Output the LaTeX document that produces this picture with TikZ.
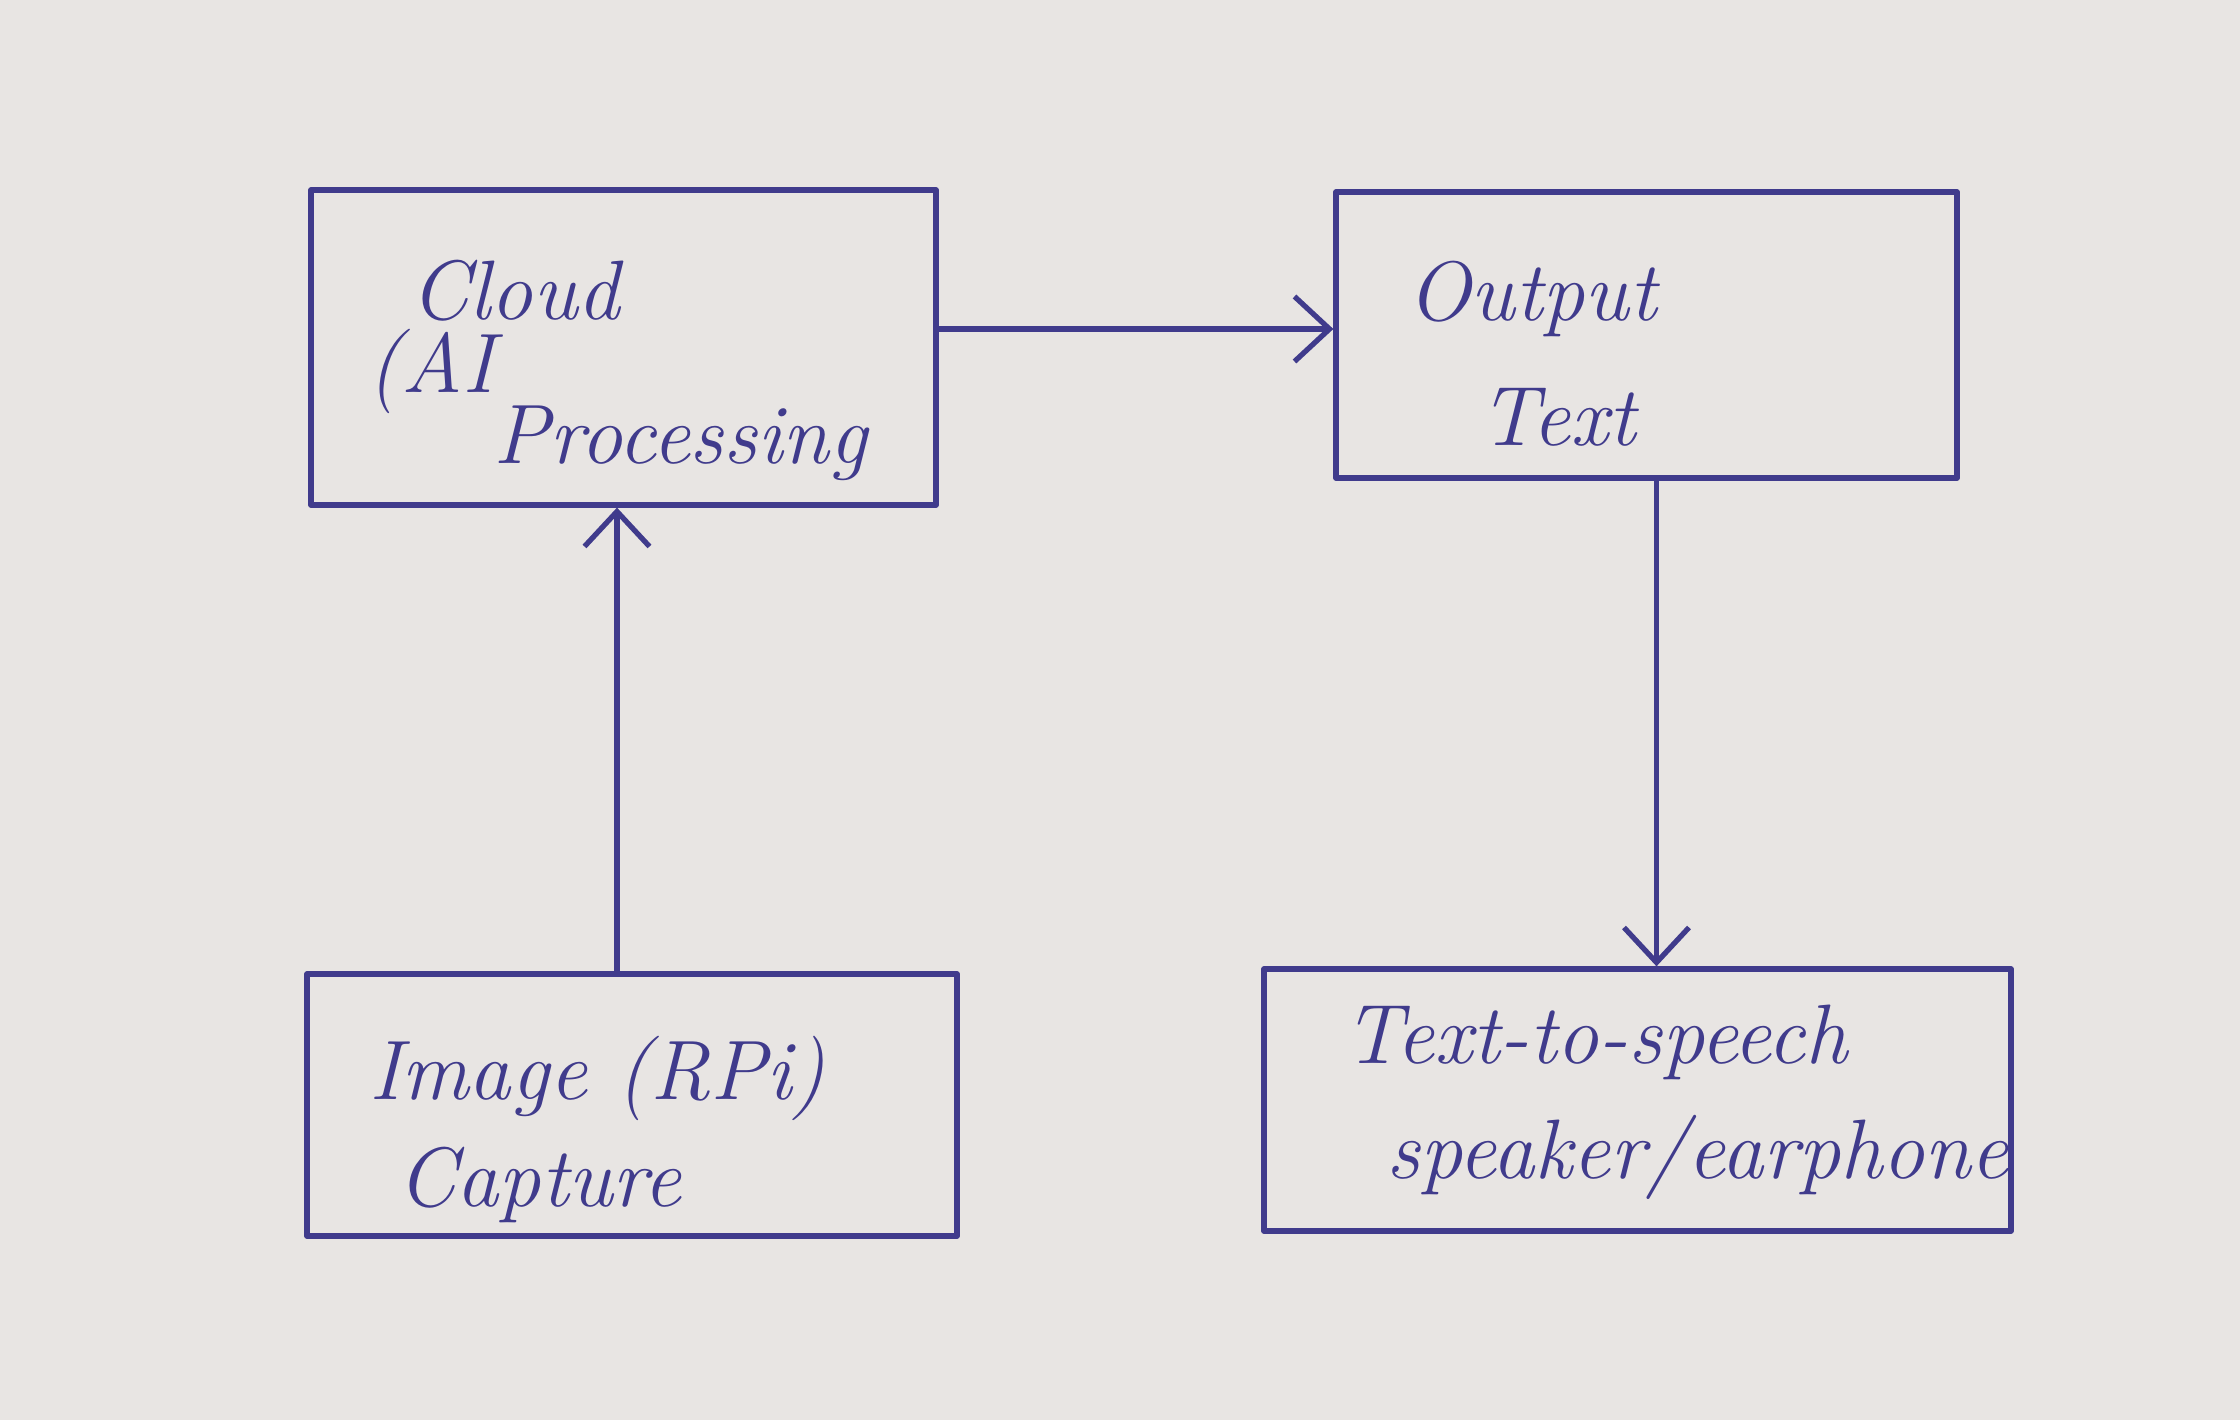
\documentclass[tikz,border=0pt]{standalone}
\usepackage{amsmath}
\usepackage{tikz}
\usetikzlibrary{arrows.meta}
\definecolor{inkblue}{rgb}{0.25,0.23,0.55}
\definecolor{paper}{rgb}{0.91,0.90,0.89}

\begin{document}
\begin{tikzpicture}[line cap=round,line join=round,>={Straight Barb[length=3.5mm,width=6.5mm]},x=0.1mm,y=-0.1mm,
	box/.style={draw=inkblue,line width=1.5pt,inner sep=0pt},
	txt/.style={anchor=base west,inner sep=0pt,text=inkblue,font=\fontsize{24}{28}\selectfont\itshape},
	link/.style={draw=inkblue,line width=1.5pt,->}]
		\fill[color=paper] (0.,0.) rectangle (2240.,1420.);
		\useasboundingbox (0.,0.) rectangle (2240.,1420.);
		% boxes
		\node (cloud) [box,minimum width=62.5mm,minimum height=31.5mm] at (623.5,347.5) {};
		\node (output) [box,minimum width=62.1mm,minimum height=28.6mm] at (1646.5,335.) {};
		\node (image) [box,minimum width=65.mm,minimum height=26.2mm] at (632.,1105.) {};
		\node (tts) [box,minimum width=74.7mm,minimum height=26.2mm] at (1637.5,1100.) {};
		% texts
		\node (cloudA) [txt] at (410.,320.) {Cloud};
		\node (cloudB) [txt] at (367.,393.) {(AI};
		\node (cloudC) [txt] at (493.,464.) {Processing};
		\node (outputA) [txt] at (1407.,321.) {Output};
		\node (outputB) [txt] at (1479.,446.) {Text};
		\node (imageA) [txt] at (369.,1100.) {Image (RPi)};
		\node (imageB) [txt] at (397.,1207.) {Capture};
		\node (ttsA) [txt] at (1343.,1064.) {Text-to-speech};
		\node (ttsB) [txt] at (1386.,1179.) {speaker/earphone};
		% connectors
		\draw [link] ([yshift=1.85mm]cloud.east) -- ([yshift=1.85mm]cloud.east -| output.west);
		\draw [link] ([xshift=-1.5mm]image.north) -- ([xshift=-1.5mm]image.north |- cloud.south);
		\draw [link] ([xshift=1.mm]output.south) -- ([xshift=1.mm]output.south |- tts.north);
\end{tikzpicture}
\end{document}
